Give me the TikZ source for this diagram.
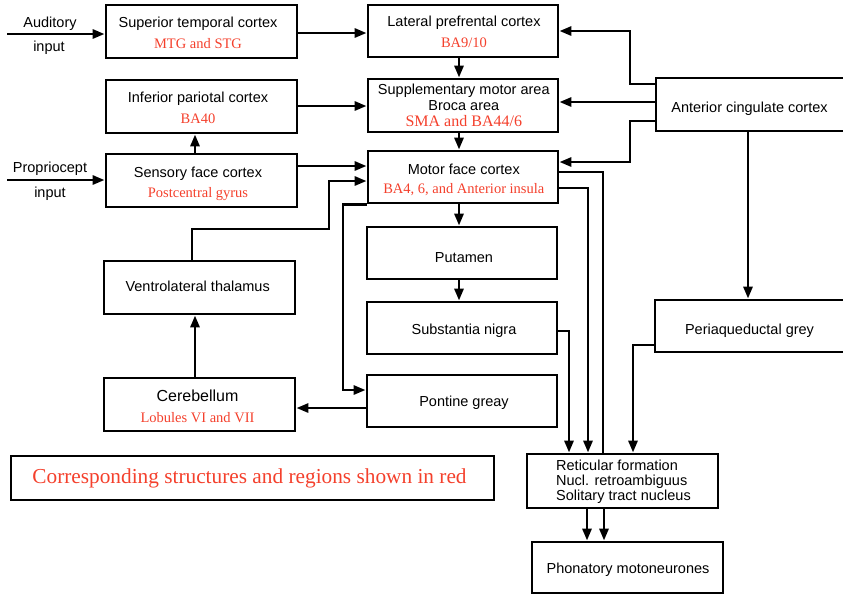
\documentclass[tikz,border=0pt]{standalone}
\usepackage{fontspec}
\setmainfont{Liberation Serif}
\setsansfont{Liberation Sans}
\usetikzlibrary{arrows.meta}
\definecolor{redtxt}{RGB}{244,64,44}
\newcommand\rd[1]{{\rmfamily\color{redtxt}#1}}
\begin{document}
\begin{tikzpicture}[x=1pt,y=-1pt,
  box/.style={draw, line width=2.8pt, inner sep=0pt},
  txt/.style={inner sep=0pt, align=center, font=\sffamily\fontsize{14.5}{21}\selectfont},
  lbl/.style={inner sep=0pt, font=\sffamily\fontsize{14.5}{17}\selectfont},
  conn/.style={line width=2.8pt},
  arr/.style={conn, -{Triangle[length=12pt,width=9pt]}}]
\useasboundingbox (0,0) rectangle (843,595);
% ---------- boxes
\node[box, minimum width=191, minimum height=53] (stc) at (201.5,31.5) {};
\node[box, minimum width=191, minimum height=53] (ipc) at (201.5,106.5) {};
\node[box, minimum width=191, minimum height=53] (sfc) at (201.5,180.5) {};
\node[box, minimum width=191, minimum height=53] (vlt) at (199.5,287.5) {};
\node[box, minimum width=191, minimum height=53] (cer) at (199.5,404.5) {};
\node[box, minimum width=190, minimum height=52] (lpc) at (463,31) {};
\node[box, minimum width=190, minimum height=53] (sma) at (463,105.5) {};
\node[box, minimum width=190, minimum height=52] (mfc) at (463,177) {};
\node[box, minimum width=190, minimum height=52] (put) at (462,253) {};
\node[box, minimum width=190, minimum height=52] (sn) at (462,328) {};
\node[box, minimum width=190, minimum height=52] (pg) at (462,401) {};
\node[box, minimum width=189, minimum height=53] (acc) at (750.5,104.5) {};
\node[box, minimum width=190, minimum height=52] (pag) at (750,326) {};
\node[box, minimum width=191, minimum height=54] (ret) at (622.5,481) {};
\node[box, minimum width=191, minimum height=51] (pho) at (627.5,567.5) {};
\node[box, minimum width=483, minimum height=44] (leg) at (252.5,478) {};
% ---------- texts
\node[txt] (stc-t) at (198,33) {Superior temporal cortex\\\rd{MTG and STG}};
\node[txt] (ipc-t) at (198,107.5) {Inferior pariotal cortex\\\rd{BA40}};
\node[txt, font=\sffamily\fontsize{14.5}{20}\selectfont] (sfc-t) at (198,183.5) {Sensory face cortex\\\rd{Postcentral gyrus}};
\node[txt] (vlt-t) at (197.7,286) {Ventrolateral thalamus};
\node[txt] (cer-t) at (197.5,406.5) {{\fontsize{16}{16}\selectfont Cerebellum}\\\rd{Lobules VI and VII}};
\node[txt] (lpc-t) at (464,31.5) {Lateral prefrental cortex\\\rd{BA9/10}};
\node[txt, font=\sffamily\fontsize{14.5}{16}\selectfont] (sma-t) at (463.8,105.5) {Supplementary motor area\\Broca area\\\rd{\fontsize{16}{16}\selectfont SMA and BA44/6}};
\node[txt, font=\sffamily\fontsize{14.5}{19}\selectfont] (mfc-t) at (463.8,179.5) {Motor face cortex\\\rd{BA4, 6, and Anterior insula}};
\node[txt] (put-t) at (464,258) {Putamen};
\node[txt] (sn-t) at (464,330.5) {Substantia nigra};
\node[txt] (pg-t) at (464,402.5) {Pontine greay};
\node[txt] (acc-t) at (749.5,108.5) {Anterior cingulate cortex};
\node[txt] (pag-t) at (749.5,330.5) {Periaqueductal grey};
\node[txt, align=left, anchor=west, font=\sffamily\fontsize{14.5}{15}\selectfont] (ret-t) at (556,482) {Reticular formation\\Nucl. retroambiguus\\Solitary tract nucleus};
\node[txt] (pho-t) at (628,569.5) {Phonatory motoneurones};
\node[txt] (leg-t) at (249.5,478) {\rd{\fontsize{21.3}{21.3}\selectfont Corresponding structures and regions shown in red}};
% ---------- input labels
\node[lbl] (la1) at (50,23.5) {Auditory};
\node[lbl] (la2) at (49,47.5) {input};
\node[lbl] (lp1) at (50,168.5) {Propriocept};
\node[lbl] (lp2) at (50,193.5) {input};
\coordinate (ain) at (7,34);
\coordinate (pin) at (7,180);
% ---------- connectors
\draw[arr] (ain) -- (ain -| stc.west);
\draw[arr] (pin) -- (pin -| sfc.west);
\draw[arr] (stc.east |- 0,33) -- (lpc.west |- 0,33);
\draw[arr] (ipc.east |- 0,106) -- (sma.west |- 0,106);
\draw[arr] (sfc.east |- 0,166) -- (mfc.west |- 0,166);
\draw[arr] (sfc.north -| 195,0) -- (ipc.south -| 195,0);
\draw[arr] (lpc.south -| 459,0) -- (sma.north -| 459,0);
\draw[arr] (sma.south -| 459,0) -- (mfc.north -| 459,0);
\draw[arr] (mfc.south -| 459,0) -- (put.north -| 459,0);
\draw[arr] (put.south -| 459,0) -- (sn.north -| 459,0);
\draw[arr] (acc.west |- 0,84) -| (630,31) -- (lpc.east |- 0,31);
\draw[arr] (acc.west |- 0,102) -- (sma.east |- 0,102);
\draw[arr] (acc.west |- 0,121) -| (630,162) -- (mfc.east |- 0,162);
\draw[conn] (mfc.east |- 0,172) -| (ret.north -| 603,0);
\draw[arr] (mfc.east |- 0,188) -| (ret.north -| 588,0);
\draw[arr] (sn.east |- 0,331) -| (ret.north -| 569,0);
\draw[arr] (pag.west |- 0,345) -| (ret.north -| 633,0);
\draw[arr] (acc.south -| 748,0) -- (pag.north -| 748,0);
\draw[arr] (ret.south -| 587,0) -- (pho.north -| 587,0);
\draw[arr] (ret.south -| 604,0) -- (pho.north -| 604,0);
\draw[arr] (mfc.south west) -| (343,390) -- (pg.west |- 0,390);
\draw[arr] (vlt.north -| 192,0) |- (329,229) |- (mfc.west |- 0,181);
\draw[arr] (cer.north -| 195,0) -- (vlt.south -| 195,0);
\draw[arr] (pg.west |- 0,408) -- (cer.east |- 0,408);
\end{tikzpicture}
\end{document}
